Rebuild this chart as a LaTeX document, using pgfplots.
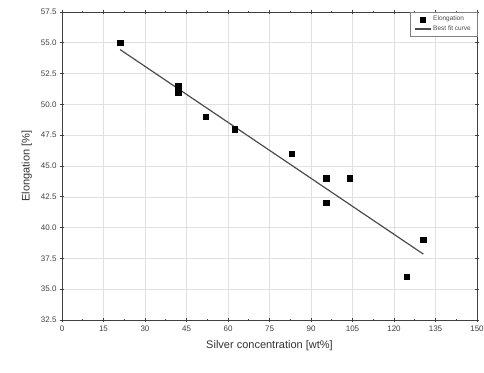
\documentclass[border=0pt]{standalone}
\usepackage{fontspec}
\setmainfont{Liberation Sans}
\usepackage{pgfplots}
\pgfplotsset{compat=1.18}

\begin{document}
\begin{tikzpicture}
\useasboundingbox (-62pt,-52pt) rectangle (422pt,320pt);
\begin{axis}[
  scale only axis,
  width=415pt, height=308pt,
  xmin=0, xmax=150, ymin=32.5, ymax=57.5,
  xtick={0,15,...,150},
  ytick={32.5,35,...,57.5},
  minor x tick num=1,
  tick align=center,
  major tick length=4pt, minor tick length=2.5pt,
  grid=major,
  major grid style={black!12, line width=0.6pt},
  axis line style={black!75, line width=0.9pt},
  every tick/.style={black!75, line width=0.7pt},
  /pgf/number format/assume math mode=true,
  yticklabel style={/pgf/number format/fixed, /pgf/number format/fixed zerofill, /pgf/number format/precision=1},
  xticklabel style={/pgf/number format/fixed},
  tick label style={font=\fontsize{8}{9}\selectfont, text=black!75},
  label style={font=\fontsize{11}{13}\selectfont, text=black!80},
  xlabel={Silver concentration [wt\%]},
  ylabel={Elongation [\%]},
  xlabel style={yshift=-2pt},
  ylabel style={yshift=2pt},
  legend style={at={(1,1)}, anchor=north east, font=\fontsize{6.5}{7.5}\selectfont,
    draw=black!50, line width=0.4pt, inner xsep=4pt, inner ysep=2pt, row sep=-0.5pt, text=black!70},
  legend image post style={scale=0.9},
  legend cell align=left,
]
\addplot[only marks, mark=square*, mark size=2.7pt, black] coordinates {
  (21,55.0) (42,51.5) (42,51.0) (52,49.0) (62.5,48.0) (83,46.0)
  (95.5,44.0) (104,44.0) (95.5,42.0) (124.5,36.0) (130.5,39.0)
};
\addlegendentry{Elongation}
\addplot[black!70, line width=1.2pt] coordinates {(21,54.45) (130.6,37.85)};
\addlegendentry{Best fit curve}
\end{axis}
\end{tikzpicture}
\end{document}
